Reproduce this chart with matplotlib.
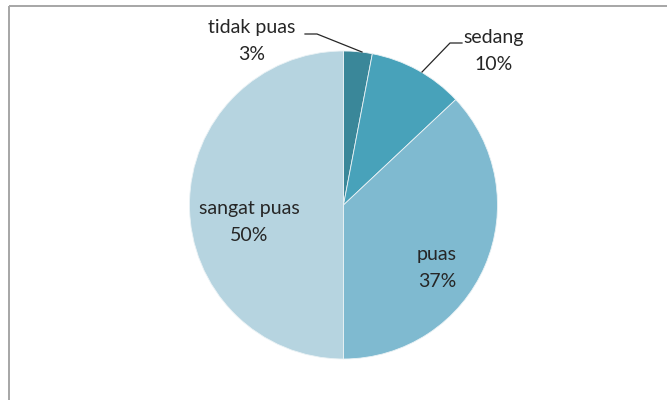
import matplotlib
matplotlib.use("Agg")
import matplotlib.pyplot as plt
from matplotlib.lines import Line2D

categories = ["tidak puas", "sedang", "puas", "sangat puas"]
values = [3, 10, 37, 50]
colors = ["#3A8799", "#48A2BA", "#7FBAD0", "#B6D4E0"]

W, H = 667, 400
fig = plt.figure(figsize=(W / 100, H / 100), dpi=100)
ax = fig.add_axes([0, 0, 1, 1])

cx, cy, r = 343.5, H - 205, 154
ax.pie(values, colors=colors, startangle=90, counterclock=False,
       center=(cx, cy), radius=r, frame=True,
       wedgeprops=dict(edgecolor="#EAF2F5", linewidth=0.6))
ax.set_xlim(0, W)
ax.set_ylim(0, H)
ax.set_aspect("equal")
ax.axis("off")

# chart border (top and left visible)
ax.add_line(Line2D([9, W], [H - 6, H - 6], color="#A6A6A6", lw=1.4, solid_capstyle="butt"))
ax.add_line(Line2D([9, 9], [H - 6, 0], color="#A6A6A6", lw=1.4, solid_capstyle="butt"))

font = dict(family="Lato", fontsize=14, color="#262626", ha="center", va="center",
            linespacing=1.65)
pcts = [f"{v}%" for v in values]
label_pos = [(252, 41), (494, 51), (437, 268), (249, 222)]
for cat, p, (x, y) in zip(categories, pcts, label_pos):
    ax.text(x, H - y, f"{cat}\n{p}", **font)

# leader lines
ax.add_line(Line2D([305, 317, 362], [H - 34, H - 34, H - 52], color="#262626", lw=0.9))
ax.add_line(Line2D([462, 450, 422], [H - 43, H - 43, H - 72], color="#262626", lw=0.9))

fig.savefig("out.png", dpi=100, facecolor="white")
